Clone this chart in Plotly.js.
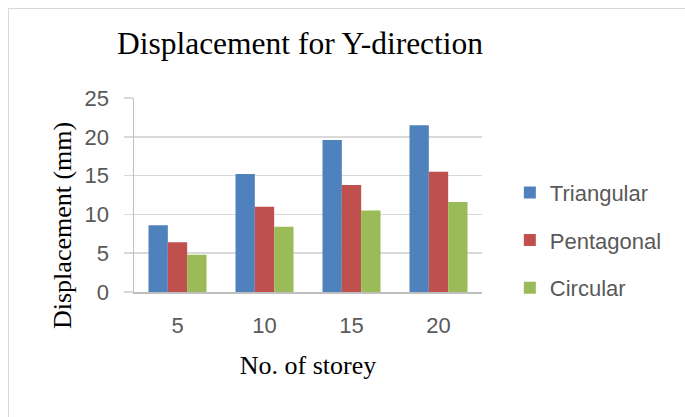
<!DOCTYPE html>
<html><head><meta charset="utf-8">
<script src="https://cdn.plot.ly/plotly-3.0.1.min.js"></script>
<style>
html,body{margin:0;padding:0;background:#fff;}
#wrap{position:relative;width:685px;height:417px;overflow:hidden;}
#chart{width:685px;height:417px;}
#frame{position:absolute;left:8px;top:8px;right:-4px;bottom:-4px;border-left:1px solid #d9d9d9;border-top:1px solid #d9d9d9;pointer-events:none;}
</style></head><body>
<div id="wrap"><div id="chart"></div><div id="frame"></div></div>
<script>
const storeys = ['5', '10', '15', '20'];
const triangular = [8.6, 15.2, 19.6, 21.5];
const pentagonal = [6.4, 11.0, 13.8, 15.5];
const circular = [4.8, 8.4, 10.5, 11.6];
const seriesNames = ['Triangular', 'Pentagonal', 'Circular'];
const seriesColors = ['#4F81BD', '#C0504D', '#9BBB59'];
const chartTitle = 'Displacement for Y-direction';
const xTitle = 'No. of storey';
const yTitle = 'Displacement (mm)';

const values = [triangular, pentagonal, circular];
const traces = values.map((v, i) => ({
  type: 'bar',
  name: seriesNames[i],
  x: storeys,
  y: v,
  legendgroup: 'g' + i,
  marker: {color: seriesColors[i]}
}));

const sans = 'Liberation Sans, Arial, sans-serif';
const serif = 'Liberation Serif, Times New Roman, serif';

const layout = {
  width: 685, height: 417,
  paper_bgcolor: 'rgba(0,0,0,0)',
  plot_bgcolor: 'rgba(0,0,0,0)',
  margin: {l: 134, r: 203, t: 98, b: 125},
  bargap: 0.333, bargroupgap: 0,
  title: {
    text: chartTitle,
    font: {family: serif, size: 31.5, color: '#000'},
    xref: 'container', x: 300 / 685, xanchor: 'center',
    yref: 'container', y: 1 - 43 / 417, yanchor: 'middle'
  },
  xaxis: {
    type: 'category',
    showline: true, linecolor: '#bfbfbf', linewidth: 1.5,
    ticks: '', showgrid: false,
    tickfont: {family: sans, size: 22, color: '#595959'},
    ticklabelstandoff: 13,
    title: {text: xTitle, font: {family: serif, size: 26, color: '#000'}, standoff: 19}
  },
  yaxis: {
    range: [0, 25], dtick: 5, tick0: 0,
    showgrid: true, gridcolor: '#d9d9d9', gridwidth: 1.5,
    zeroline: false,
    showline: true, linecolor: '#bfbfbf', linewidth: 1.5,
    ticks: 'outside', ticklen: 9, tickcolor: '#d9d9d9', tickwidth: 1.5,
    tickfont: {family: sans, size: 22, color: '#595959'},
    ticklabelstandoff: 10
  },
  annotations: [{
    text: yTitle, textangle: -90, showarrow: false,
    xref: 'paper', yref: 'paper', x: (62 - 134) / 348, y: (292 - 226) / 194,
    xanchor: 'center', yanchor: 'middle',
    font: {family: serif, size: 26, color: '#000'}
  }],
  legend: {
    x: 1.08, xanchor: 'left', y: 0.62, yanchor: 'top',
    traceorder: 'grouped', tracegroupgap: 16,
    font: {family: sans, size: 22, color: '#595959'},
    bgcolor: 'rgba(0,0,0,0)'
  },
  showlegend: true
};

Plotly.newPlot('chart', traces, layout, {displayModeBar: false, staticPlot: true});
</script>
</body></html>
